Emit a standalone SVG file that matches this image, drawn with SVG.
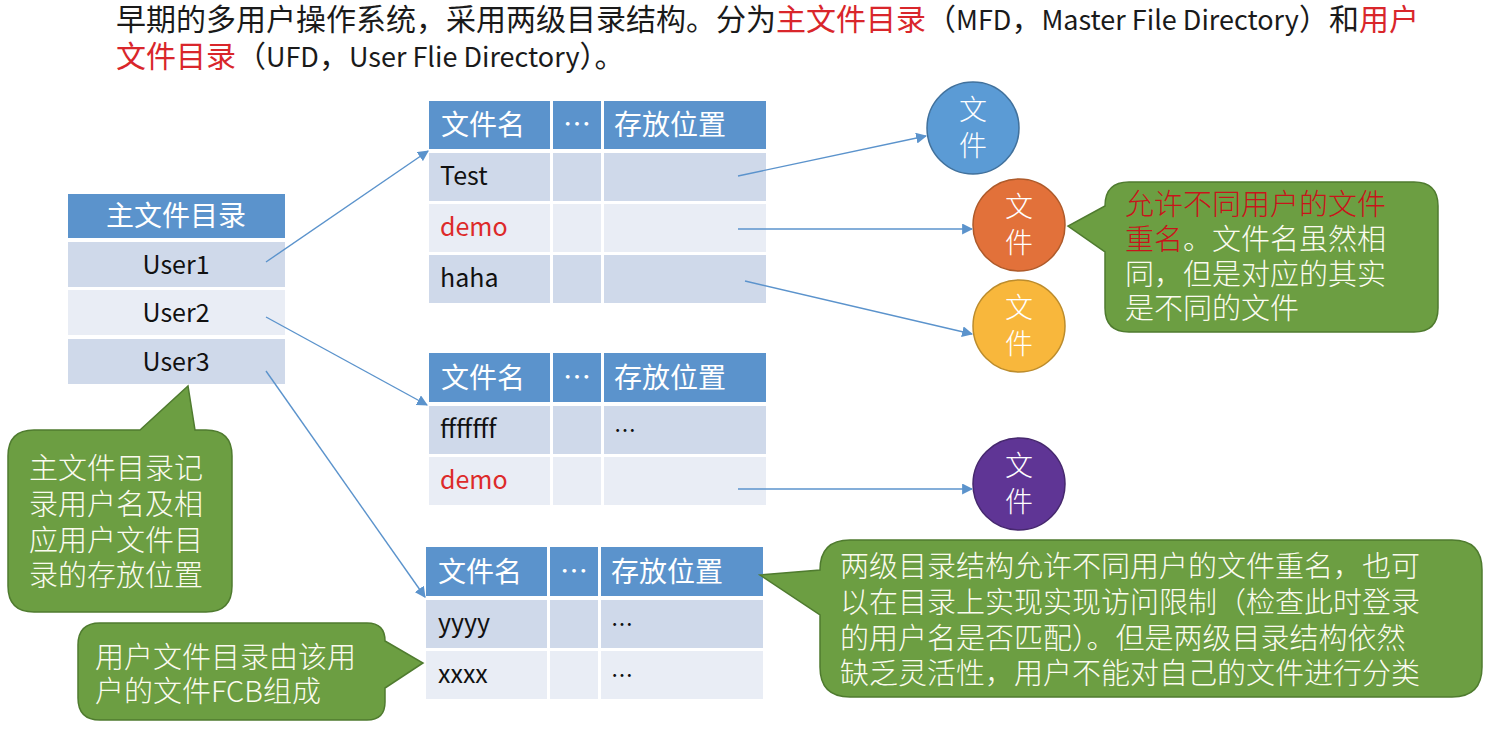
<svg xmlns="http://www.w3.org/2000/svg" width="1491" height="739" viewBox="0 0 1491 739">
<style>
text{font-family:"Noto Sans CJK SC","Liberation Sans",sans-serif;}
.title{font-size:30px;fill:#1a1a1a;}
.lat{font-size:27px;}
.red{fill:#D9262B;}
.hdr{fill:#5B93CC;}
.rd{fill:#CFD9EA;}
.rl{fill:#E9EDF5;}
.ht{font-size:28px;fill:#ffffff;}
.ct{font-size:25px;fill:#111111;}
.dem{font-size:25px;fill:#DD2A2A;}
.dots{font-size:22px;fill:#111111;}
.call{fill:#6C9E42;stroke:#4F7B2F;stroke-width:1.5;}
.cw{font-size:29px;fill:#FBFBEF;font-weight:300;}
.cr{fill:#C8141B;}
.circt{font-size:28px;fill:#ffffff;text-anchor:middle;font-weight:300;}
.conn{stroke:#5B93CC;stroke-width:1.4;fill:none;marker-end:url(#ah);}
</style>
<defs>
<marker id="ah" viewBox="0 0 10 10" refX="9" refY="5" markerWidth="11" markerHeight="11" markerUnits="userSpaceOnUse" orient="auto">
<path d="M0,0 L10,5 L0,10 z" fill="#5B93CC"/>
</marker>
</defs>
<rect width="1491" height="739" fill="#ffffff"/>

<g id="title">
<text class="title" x="116" y="30">早期的多用户操作系统，采用两级目录结构。分为<tspan class="red">主文件目录</tspan>（<tspan class="lat">MFD</tspan>，<tspan class="lat">Master File Directory</tspan>）和<tspan class="red">用户</tspan></text>
<text class="title" x="116" y="67"><tspan class="red">文件目录</tspan>（<tspan class="lat">UFD</tspan>，<tspan class="lat">User Flie Directory</tspan>）。</text>
</g>

<g id="mfd">
<rect class="hdr" x="68" y="194" width="217" height="44"/>
<rect class="rd" x="68" y="242" width="217" height="45"/>
<rect class="rl" x="68" y="290" width="217" height="45"/>
<rect class="rd" x="68" y="339" width="217" height="45"/>
<text class="ht" x="176" y="226" text-anchor="middle">主文件目录</text>
<text class="ct" x="176" y="274" text-anchor="middle">User1</text>
<text class="ct" x="176" y="322" text-anchor="middle">User2</text>
<text class="ct" x="176" y="371" text-anchor="middle">User3</text>
</g>

<g id="ufd1">
<rect class="hdr" x="429" y="101" width="121" height="48"/>
<rect class="hdr" x="553" y="101" width="48" height="48"/>
<rect class="hdr" x="604" y="101" width="162" height="48"/>
<rect class="rd" x="429" y="153" width="121" height="48"/>
<rect class="rd" x="553" y="153" width="48" height="48"/>
<rect class="rd" x="604" y="153" width="162" height="48"/>
<rect class="rl" x="429" y="204" width="121" height="48"/>
<rect class="rl" x="553" y="204" width="48" height="48"/>
<rect class="rl" x="604" y="204" width="162" height="48"/>
<rect class="rd" x="429" y="255" width="121" height="48"/>
<rect class="rd" x="553" y="255" width="48" height="48"/>
<rect class="rd" x="604" y="255" width="162" height="48"/>
<text class="ht" x="441" y="135">文件名</text>
<text class="ht" x="577" y="135" text-anchor="middle">…</text>
<text class="ht" x="614" y="135">存放位置</text>
<text class="ct" x="440" y="185">Test</text>
<text class="dem" x="440" y="236">demo</text>
<text class="ct" x="440" y="287">haha</text>
</g>

<g id="ufd2">
<rect class="hdr" x="429" y="353" width="121" height="49"/>
<rect class="hdr" x="553" y="353" width="48" height="49"/>
<rect class="hdr" x="604" y="353" width="162" height="49"/>
<rect class="rd" x="429" y="406" width="121" height="48"/>
<rect class="rd" x="553" y="406" width="48" height="48"/>
<rect class="rd" x="604" y="406" width="162" height="48"/>
<rect class="rl" x="429" y="457" width="121" height="48"/>
<rect class="rl" x="553" y="457" width="48" height="48"/>
<rect class="rl" x="604" y="457" width="162" height="48"/>
<text class="ht" x="441" y="388">文件名</text>
<text class="ht" x="577" y="388" text-anchor="middle">…</text>
<text class="ht" x="614" y="388">存放位置</text>
<text class="ct" x="440" y="438">fffffff</text>
<text class="dots" x="614" y="438">…</text>
<text class="dem" x="440" y="489">demo</text>
</g>

<g id="ufd3">
<rect class="hdr" x="426" y="547" width="121" height="49"/>
<rect class="hdr" x="550" y="547" width="48" height="49"/>
<rect class="hdr" x="601" y="547" width="162" height="49"/>
<rect class="rd" x="426" y="600" width="121" height="48"/>
<rect class="rd" x="550" y="600" width="48" height="48"/>
<rect class="rd" x="601" y="600" width="162" height="48"/>
<rect class="rl" x="426" y="651" width="121" height="48"/>
<rect class="rl" x="550" y="651" width="48" height="48"/>
<rect class="rl" x="601" y="651" width="162" height="48"/>
<text class="ht" x="438" y="582">文件名</text>
<text class="ht" x="574" y="582" text-anchor="middle">…</text>
<text class="ht" x="611" y="582">存放位置</text>
<text class="ct" x="438" y="632">yyyy</text>
<text class="dots" x="611" y="632">…</text>
<text class="ct" x="438" y="683">xxxx</text>
<text class="dots" x="611" y="683">…</text>
</g>

<g id="file-blue">
<circle cx="973" cy="128" r="46" fill="#5B9BD5" stroke="#41719C" stroke-width="1.5"/>
<text class="circt" x="973" y="120">文</text>
<text class="circt" x="973" y="156">件</text>
</g>
<g id="file-orange">
<circle cx="1019" cy="225" r="46" fill="#E2713A" stroke="#AE5A2A" stroke-width="1.5"/>
<text class="circt" x="1019" y="217">文</text>
<text class="circt" x="1019" y="253">件</text>
</g>
<g id="file-yellow">
<circle cx="1019" cy="326" r="46" fill="#F8B73C" stroke="#BC8C2C" stroke-width="1.5"/>
<text class="circt" x="1019" y="318">文</text>
<text class="circt" x="1019" y="354">件</text>
</g>
<g id="file-purple">
<circle cx="1019" cy="484" r="46" fill="#5F3595" stroke="#46286E" stroke-width="1.5"/>
<text class="circt" x="1019" y="476">文</text>
<text class="circt" x="1019" y="512">件</text>
</g>

<g id="callout-mfd">
<path class="call" d="M34,430 L140,430 L188,386 L195,430 L206,430 Q232,430 232,456 L232,586 Q232,612 206,612 L34,612 Q8,612 8,586 L8,456 Q8,430 34,430 Z"/>
<text class="cw" x="29" y="479">主文件目录记</text>
<text class="cw" x="29" y="515">录用户名及相</text>
<text class="cw" x="29" y="551">应用户文件目</text>
<text class="cw" x="29" y="586">录的存放位置</text>
</g>

<g id="callout-ufd">
<path class="call" d="M100,623 L367,623 Q385,623 385,641 L423,663 L385,688 L385,702 Q385,720 367,720 L100,720 Q78,720 78,698 L78,645 Q78,623 100,623 Z"/>
<text class="cw" x="95" y="668">用户文件目录由该用</text>
<text class="cw" x="95" y="702">户的文件FCB组成</text>
</g>

<g id="callout-rename">
<path class="call" d="M1129,182 L1414,182 Q1438,182 1438,206 L1438,308 Q1438,332 1414,332 L1129,332 Q1105,332 1105,308 L1105,252 L1068,226 L1105,206 Q1105,182 1129,182 Z"/>
<text class="cw" x="1125" y="215"><tspan class="cr">允许不同用户的文件</tspan></text>
<text class="cw" x="1125" y="250"><tspan class="cr">重名</tspan>。文件名虽然相</text>
<text class="cw" x="1125" y="285">同，但是对应的其实</text>
<text class="cw" x="1125" y="319">是不同的文件</text>
</g>

<g id="callout-summary">
<path class="call" d="M850,540 L1452,540 Q1482,540 1482,570 L1482,667 Q1482,697 1452,697 L850,697 Q820,697 820,667 L820,615 L760,575 L820,570 Q820,540 850,540 Z"/>
<text class="cw" x="840" y="577" font-size="30">两级目录结构允许不同用户的文件重名，也可</text>
<text class="cw" x="840" y="613" font-size="30">以在目录上实现实现访问限制（检查此时登录</text>
<text class="cw" x="840" y="649" font-size="30">的用户名是否匹配）。但是两级目录结构依然</text>
<text class="cw" x="840" y="684" font-size="30">缺乏灵活性，用户不能对自己的文件进行分类</text>
</g>

<g id="connectors">
<line class="conn" x1="266" y1="262" x2="428" y2="151"/>
<line class="conn" x1="266" y1="317" x2="427" y2="405"/>
<line class="conn" x1="266" y1="371" x2="425" y2="597"/>
<line class="conn" x1="738" y1="176" x2="926" y2="136"/>
<line class="conn" x1="738" y1="229" x2="972" y2="229"/>
<line class="conn" x1="745" y1="281" x2="972" y2="334"/>
<line class="conn" x1="738" y1="489" x2="972" y2="489"/>
</g>
</svg>
